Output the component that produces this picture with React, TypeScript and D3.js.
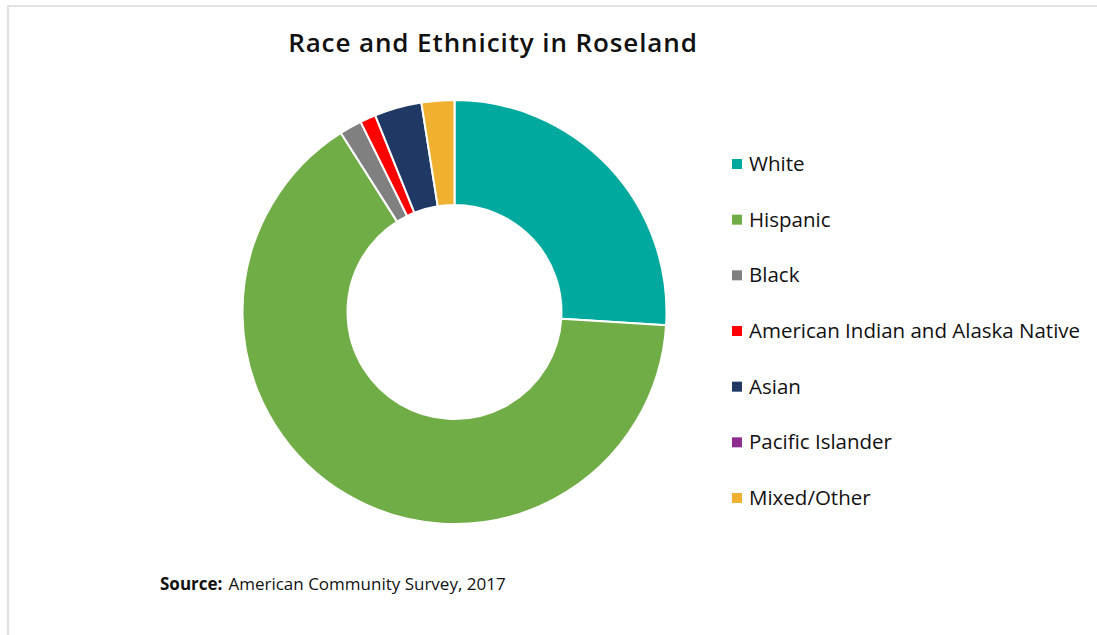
import React, { useEffect, useRef } from 'react';
import * as d3 from 'd3';

const categories = ['White', 'Hispanic', 'Black', 'American Indian and Alaska Native', 'Asian', 'Pacific Islander', 'Mixed/Other'];
const shares = [26.0, 65.0, 1.7, 1.2, 3.6, 0, 2.5];
const colors = ['#00a99d', '#70ad47', '#808080', '#ff0000', '#1f3864', '#8e2b8e', '#f0b030'];

const W = 1097;
const H = 635;
const FONT = '"Open Sans", Lato, sans-serif';

const App: React.FC = () => {
  const svgRef = useRef<SVGSVGElement>(null);

  useEffect(() => {
    if (!svgRef.current) {return;}
    const svg = d3.select(svgRef.current);
    svg.selectAll('*').remove();

    // frame (only top and left edges show)
    svg.append('line').attr('x1', 7).attr('x2', W).attr('y1', 6).attr('y2', 6)
      .attr('stroke', '#e2e2e2').attr('stroke-width', 2);
    svg.append('line').attr('x1', 8).attr('x2', 8).attr('y1', 5).attr('y2', H)
      .attr('stroke', '#e2e2e2').attr('stroke-width', 2);

    // title
    svg.append('text')
      .attr('x', 493)
      .attr('y', 52)
      .attr('text-anchor', 'middle')
      .attr('font-family', FONT)
      .attr('font-weight', 600)
      .attr('font-size', 26)
      .attr('letter-spacing', 0.9)
      .attr('fill', '#111')
      .text('Race and Ethnicity in Roseland');

    // donut
    const cx = 454.5;
    const cy = 312;
    const outer = 212;
    const inner = 107;

    const data = categories.map((c, i) => ({ name: c, value: shares[i], color: colors[i] }));
    const pie = d3.pie<{ name: string; value: number; color: string }>()
      .value(d => d.value)
      .sort(null);
    const arc = d3.arc<d3.PieArcDatum<{ name: string; value: number; color: string }>>()
      .innerRadius(inner)
      .outerRadius(outer);

    const g = svg.append('g').attr('transform', `translate(${cx}, ${cy})`);
    g.selectAll('.slice')
      .data(pie(data).filter(d => d.data.value > 0))
      .enter()
      .append('path')
      .attr('class', 'slice')
      .attr('d', arc)
      .attr('fill', d => d.data.color)
      .attr('stroke', '#fff')
      .attr('stroke-width', 2)
      .attr('stroke-linejoin', 'round');

    // legend
    const legendY = d3.scalePoint<string>()
      .domain(categories)
      .range([164, 498]);

    const items = svg.append('g').selectAll('.item')
      .data(data)
      .enter()
      .append('g')
      .attr('class', 'item')
      .attr('transform', d => `translate(732, ${legendY(d.name)})`);

    items.append('rect')
      .attr('x', 0)
      .attr('y', -5)
      .attr('width', 10)
      .attr('height', 10)
      .attr('fill', d => d.color);

    items.append('text')
      .attr('x', 17)
      .attr('y', 7)
      .attr('font-family', FONT)
      .attr('font-size', 20.5)
      .attr('fill', '#111')
      .text(d => d.name);

    // source note
    const src = svg.append('text')
      .attr('x', 160)
      .attr('y', 590)
      .attr('font-family', FONT)
      .attr('font-size', 17)
      .attr('fill', '#111');
    src.append('tspan').attr('font-weight', 700).text('Source:');
    src.append('tspan').attr('dx', 6).text('American Community Survey, 2017');
  }, []);

  return (
    <svg
      ref={svgRef}
      width={W}
      height={H}
      style={{ position: 'absolute', left: 0, top: 0, display: 'block', background: '#fff' }}
    />
  );
};

export default App;
